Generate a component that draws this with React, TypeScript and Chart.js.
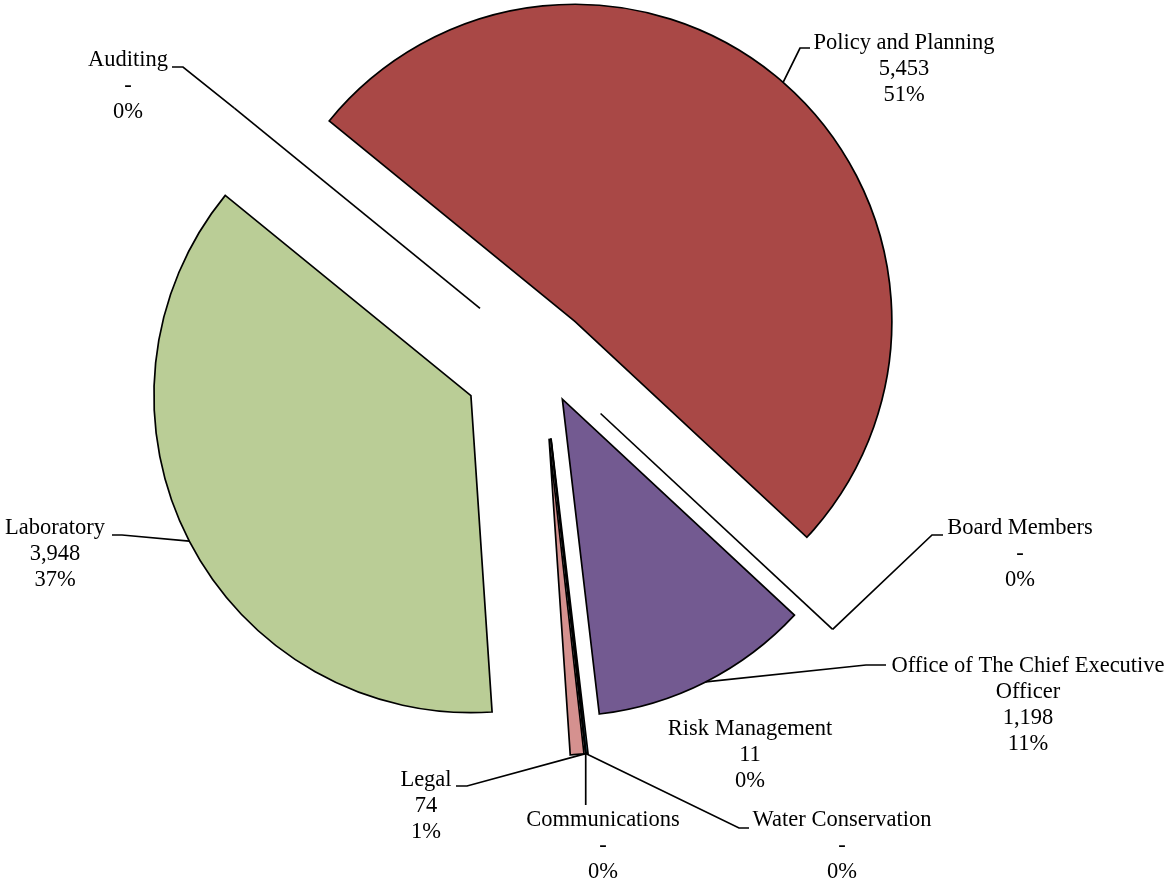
import React, { useEffect, useRef } from 'react';
import { Chart, registerables } from 'chart.js';

Chart.register(...registerables);

// ---------- data ----------
const categories: string[] = [
  'Policy and Planning',
  'Board Members',
  'Office of The Chief Executive Officer',
  'Risk Management',
  'Water Conservation',
  'Communications',
  'Legal',
  'Laboratory',
  'Auditing',
];
const values: number[] = [5453, 0, 1198, 11, 0, 0, 74, 3948, 0];

// ---------- styling ----------
const sliceColors: string[] = [
  '#A94846', '#4F81BD', '#735A91', '#4BACC6', '#F79646',
  '#2C4D75', '#D5918F', '#BACD96', '#5F497A',
];
const explode: number[] = [50, 80, 45, 80, 80, 80, 80, 80, 80];

type LabelSpec = { x: number; y: number; leader: number[][]; anchorFrom?: number };
const labelLayout: LabelSpec[] = [
  { x: 904, y: 43, leader: [[800, 48], [810, 48]] },
  { x: 1020, y: 528, leader: [[932, 535], [943, 535]] },
  { x: 1028, y: 666, leader: [[866, 665], [886, 665]] },
  { x: 750, y: 729, leader: [] },
  { x: 842, y: 820, leader: [[739, 828], [749, 828]] },
  { x: 603, y: 820, leader: [[588, 805]] },
  { x: 426, y: 780, leader: [[467, 786], [456, 786]], anchorFrom: 5 },
  { x: 55, y: 528, leader: [[122, 535], [112, 535]] },
  { x: 128, y: 60, leader: [[183, 67], [172, 67]] },
];

const FONT = '22.5px "Liberation Serif", "Times New Roman", serif';
const LINE_H = 26;
const WRAP_W = 290;
const LINE_W = 1.7;

function wrapText(ctx: CanvasRenderingContext2D, text: string, maxW: number): string[] {
  const words = text.split(' ');
  const lines: string[] = [];
  let cur = '';
  for (const w of words) {
    const test = cur ? cur + ' ' + w : w;
    if (ctx.measureText(test).width > maxW && cur) {
      lines.push(cur);
      cur = w;
    } else {
      cur = test;
    }
  }
  if (cur) lines.push(cur);
  return lines;
}

function anchorOf(el: any, i: number) {
  const mid = (el.startAngle + el.endAngle) / 2;
  const r = explode[i] + el.outerRadius;
  return { x: el.x + Math.cos(mid) * r, y: el.y + Math.sin(mid) * r };
}

const explodePlugin = {
  id: 'explodePie',
  beforeDatasetDraw(chart: any, args: any) {
    const ctx: CanvasRenderingContext2D = chart.ctx;
    const meta = args.meta;
    meta.data.forEach((el: any, i: number) => {
      if (el.endAngle - el.startAngle > 0) {
        const mid = (el.startAngle + el.endAngle) / 2;
        ctx.save();
        ctx.translate(Math.cos(mid) * explode[i], Math.sin(mid) * explode[i]);
        el.draw(ctx);
        ctx.restore();
      }
    });
    // zero-value slices are drawn as a single edge line
    meta.data.forEach((el: any, i: number) => {
      if (el.endAngle - el.startAngle <= 0) {
        const a = el.startAngle;
        const ex = explode[i];
        ctx.save();
        ctx.strokeStyle = '#000';
        ctx.lineWidth = LINE_W;
        ctx.beginPath();
        ctx.moveTo(el.x + Math.cos(a) * ex, el.y + Math.sin(a) * ex);
        ctx.lineTo(el.x + Math.cos(a) * (ex + el.outerRadius), el.y + Math.sin(a) * (ex + el.outerRadius));
        ctx.stroke();
        ctx.restore();
      }
    });
    return false;
  },
  afterDraw(chart: any) {
    const ctx: CanvasRenderingContext2D = chart.ctx;
    const meta = chart.getDatasetMeta(0);
    const total = values.reduce((s, v) => s + v, 0);
    ctx.save();
    ctx.font = FONT;
    ctx.fillStyle = '#000';
    ctx.strokeStyle = '#000';
    ctx.lineWidth = LINE_W;
    ctx.lineJoin = 'miter';
    ctx.textAlign = 'center';
    ctx.textBaseline = 'middle';
    meta.data.forEach((el: any, i: number) => {
      const spec = labelLayout[i];
      const src = spec.anchorFrom !== undefined ? spec.anchorFrom : i;
      const a = anchorOf(meta.data[src], src);
      if (spec.leader.length) {
        ctx.beginPath();
        ctx.moveTo(a.x, a.y);
        spec.leader.forEach((p, k) => {
          if (k === 0 && spec.leader.length === 1) ctx.lineTo(a.x, p[1]);
          else ctx.lineTo(p[0], p[1]);
        });
        ctx.stroke();
      }
      const v = values[i];
      const lines = [
        ...wrapText(ctx, categories[i], WRAP_W),
        v === 0 ? '-' : v.toLocaleString('en-US'),
        Math.round((v / total) * 100) + '%',
      ];
      lines.forEach((t, k) => ctx.fillText(t, spec.x, spec.y + k * LINE_H));
    });
    ctx.restore();
  },
};

export default function App() {
  const canvasRef = useRef<HTMLCanvasElement | null>(null);

  useEffect(() => {
    if (!canvasRef.current) return;
    const chart = new Chart(canvasRef.current, {
      type: 'pie',
      data: {
        labels: categories,
        datasets: [
          {
            data: values,
            backgroundColor: sliceColors,
            borderColor: '#000000',
            borderWidth: LINE_W,
            borderJoinStyle: 'miter',
            offset: 0,
            hoverOffset: 0,
          } as any,
        ],
      },
      options: {
        responsive: false,
        animation: false,
        events: [],
        rotation: -50.8,
        radius: 317,
        layout: { padding: { left: 0, right: 82, top: 0, bottom: 164 } },
        plugins: {
          legend: { display: false },
          tooltip: { enabled: false },
        },
      } as any,
      plugins: [explodePlugin],
    });
    return () => chart.destroy();
  }, []);

  return (
    <div style={{ position: 'absolute', left: 0, top: 0, width: 1166, height: 882, background: '#fff' }}>
      <canvas ref={canvasRef} width={1166} height={882} style={{ display: 'block' }} />
    </div>
  );
}
